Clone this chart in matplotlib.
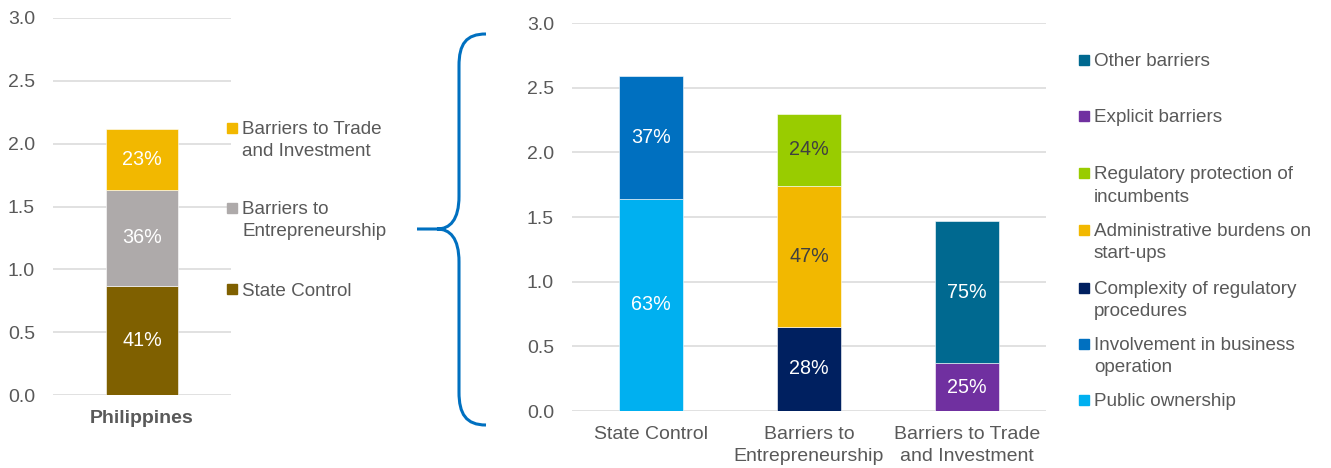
import matplotlib.pyplot as plt
import numpy as np
from matplotlib.path import Path
from matplotlib.patches import PathPatch, Rectangle

plt.rcParams['font.family'] = ['Liberation Sans', 'DejaVu Sans']

# overall PMR score for the Philippines, split into the three components
country = ['Philippines']
comp_names = ['State Control', 'Barriers to\nEntrepreneurship', 'Barriers to Trade\nand Investment']
comp_values = [0.87, 0.76, 0.49]
comp_pct = ['41%', '36%', '23%']
comp_colors = ['#7F6000', '#AEAAAA', '#F2B800']
comp_text = ['white', 'white', 'white']

# breakdown of each component into its sub-indicators
groups = ['State Control', 'Barriers to\nEntrepreneurship', 'Barriers to Trade\nand Investment']
sub_names = ['Public ownership', 'Involvement in business\noperation',
             'Complexity of regulatory\nprocedures', 'Administrative burdens on\nstart-ups',
             'Regulatory protection of\nincumbents', 'Explicit barriers', 'Other barriers']
sub_group = [0, 0, 1, 1, 1, 2, 2]
sub_values = [1.64, 0.95, 0.65, 1.09, 0.56, 0.37, 1.10]
sub_pct = ['63%', '37%', '28%', '47%', '24%', '25%', '75%']
sub_colors = ['#00B0F0', '#0070C0', '#002060', '#F2B800', '#99CC00', '#7030A0', '#006990']
sub_text = ['white', 'white', 'white', '#404040', '#404040', 'white', 'white']

grey = '#595959'
W, H = 1331, 468
fig = plt.figure(figsize=(W / 100, H / 100), dpi=100)


def style(ax):
    ax.set_ylim(0, 3)
    ax.set_yticks(np.arange(0, 3.01, 0.5))
    ax.set_yticklabels([f'{v:.1f}' for v in np.arange(0, 3.01, 0.5)])
    ax.grid(axis='y', color='#D9D9D9', lw=1.1)
    ax.set_axisbelow(True)
    for s in ax.spines.values():
        s.set_visible(False)
    ax.tick_params(length=0, labelsize=14, labelcolor=grey)
    ax.tick_params(axis='y', pad=13)


# left chart
ax1 = fig.add_axes([53 / W, 1 - 395 / H, 178 / W, 377 / H])
style(ax1)
bottom = 0
for v, p, c, tc in zip(comp_values, comp_pct, comp_colors, comp_text):
    ax1.bar(0, v, 0.4, bottom=bottom, color=c, edgecolor='white', lw=0.4)
    ax1.text(0, bottom + v / 2, p, ha='center', va='center', color=tc, fontsize=14.2)
    bottom += v
ax1.set_xlim(-0.5, 0.5)
ax1.set_xticks([0])
ax1.set_xticklabels(country, fontweight='bold')
ax1.tick_params(axis='x', pad=11)

# right chart
ax2 = fig.add_axes([572 / W, 1 - 411 / H, 474 / W, 388 / H])
style(ax2)
bottoms = [0.0, 0.0, 0.0]
for g, v, p, c, tc in zip(sub_group, sub_values, sub_pct, sub_colors, sub_text):
    ax2.bar(g, v, 0.4, bottom=bottoms[g], color=c, edgecolor='white', lw=0.4)
    ax2.text(g, bottoms[g] + v / 2, p, ha='center', va='center', color=tc, fontsize=14.2)
    bottoms[g] += v
ax2.set_xlim(-0.5, 2.5)
ax2.set_xticks(range(len(groups)))
ax2.set_xticklabels(groups, linespacing=1.4)
ax2.tick_params(axis='x', pad=11)

# overlay in pixel coordinates for legends and the brace
ov = fig.add_axes([0, 0, 1, 1])
ov.set_xlim(0, W)
ov.set_ylim(H, 0)
ov.axis('off')


def legend_entry(x, y, name, color):
    ov.add_patch(Rectangle((x, y - 5), 10, 10, color=color))
    # baseline of the last line, square sits next to the first line
    base = y + 6.5 + 22 * name.count('\n')
    ov.text(x + 15, base, name, va='baseline', ha='left', fontsize=13.6,
            color=grey, linespacing=1.4)


for y, name, c in zip([128, 208, 289], comp_names[::-1], comp_colors[::-1]):
    legend_entry(227, y, name, c)

for y, name, c in zip([60, 116, 173, 230, 288, 344, 400], sub_names[::-1], sub_colors[::-1]):
    legend_entry(1079, y, name, c)

# curly brace linking the two charts
verts = [(486, 34), (466, 34), (459, 44), (459, 66),
         (459, 196),
         (459, 220), (450, 229), (437, 229),
         (417, 229),
         (437, 229),
         (450, 229), (459, 238), (459, 262),
         (459, 392),
         (459, 414), (466, 425), (486, 425)]
codes = [Path.MOVETO, Path.CURVE4, Path.CURVE4, Path.CURVE4,
         Path.LINETO,
         Path.CURVE4, Path.CURVE4, Path.CURVE4,
         Path.LINETO,
         Path.MOVETO,
         Path.CURVE4, Path.CURVE4, Path.CURVE4,
         Path.LINETO,
         Path.CURVE4, Path.CURVE4, Path.CURVE4]
ov.add_patch(PathPatch(Path(verts, codes), fill=False, edgecolor='#0070C0', lw=2.2))

fig.savefig('out.png', dpi=100)
